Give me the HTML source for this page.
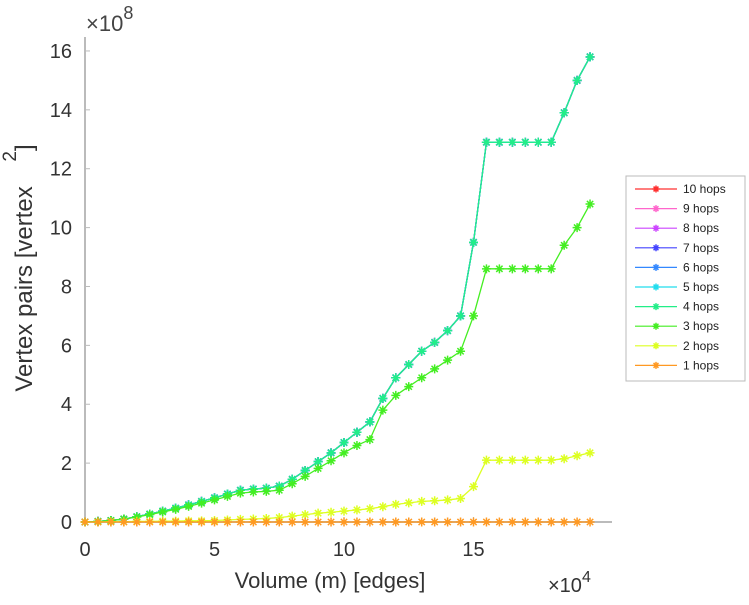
<!DOCTYPE html>
<html><head><meta charset="utf-8"><style>
body{margin:0;background:#fff;width:749px;height:600px;overflow:hidden}
svg{font-family:"Liberation Sans",sans-serif}
</style></head><body>
<svg id="chart" width="749" height="600" viewBox="0 0 749 600" xmlns="http://www.w3.org/2000/svg">
<g id="axes"></g>
<g id="series"></g>
<g id="legend"></g>
</svg>
<script>
const xVals=[0,0.5,1,1.5,2,2.5,3,3.5,4,4.5,5,5.5,6,6.5,7,7.5,8,8.5,9,9.5,10,10.5,11,11.5,12,12.5,13,13.5,14,14.5,15,15.5,16,16.5,17,17.5,18,18.5,19,19.5];
const topVals=[0,0.02,0.05,0.1,0.18,0.27,0.37,0.47,0.58,0.7,0.82,0.95,1.08,1.12,1.15,1.22,1.45,1.75,2.05,2.35,2.7,3.05,3.4,4.2,4.9,5.35,5.8,6.1,6.5,7.0,9.5,12.9,12.9,12.9,12.9,12.9,12.9,13.9,15.0,15.8];
const hop3Vals=[0,0.02,0.05,0.1,0.17,0.25,0.34,0.43,0.53,0.64,0.75,0.87,0.98,1.02,1.04,1.08,1.3,1.55,1.82,2.08,2.35,2.6,2.8,3.8,4.3,4.6,4.9,5.2,5.5,5.8,7.0,8.6,8.6,8.6,8.6,8.6,8.6,9.4,10.0,10.8];
const hop2Vals=[0,0,0.01,0.01,0.02,0.02,0.03,0.03,0.04,0.04,0.05,0.07,0.09,0.1,0.12,0.15,0.2,0.25,0.3,0.33,0.37,0.41,0.45,0.52,0.6,0.65,0.7,0.72,0.75,0.8,1.2,2.1,2.1,2.1,2.1,2.1,2.1,2.15,2.25,2.35];
const hop1Vals=xVals.map(()=>0);
const seriesNames=["10 hops","9 hops","8 hops","7 hops","6 hops","5 hops","4 hops","3 hops","2 hops","1 hops"];
const seriesColors=["#ff3030","#ff66cc","#cc44ff","#4444ff","#3388ff","#22ddee","#22ee88","#44ee22","#ddff22","#ff9922"];
const seriesData=[topVals,topVals,topVals,topVals,topVals,topVals,topVals,hop3Vals,hop2Vals,hop1Vals];
const xTicks=[0,5,10,15];
const yTicks=[0,2,4,6,8,10,12,14,16];
const NS="http://www.w3.org/2000/svg";
const X0=85,XS=25.9,Y0=522,YS=29.44;
const sx=v=>X0+v*XS, sy=v=>Y0-v*YS;
function mk(tag,attrs,parent){const e=document.createElementNS(NS,tag);for(const k in attrs)e.setAttribute(k,attrs[k]);parent.appendChild(e);return e;}
const axes=document.getElementById('axes');
let l=mk('line',{x1:X0,y1:522,x2:612,y2:522,stroke:'#bbb','stroke-width':2},axes);


l=mk('line',{x1:X0,y1:37,x2:X0,y2:522,stroke:'#bbb','stroke-width':2},axes);


xTicks.forEach(t=>{
 const tl=mk('line',{x1:sx(t),y1:522,x2:sx(t),y2:517,stroke:'#bbb'},axes);
 
 
 const tx=mk('text',{x:sx(t),y:556,'text-anchor':'middle','font-size':20,fill:'#333'},axes);tx.textContent=t;
 
 
});
yTicks.forEach(t=>{
 const tl=mk('line',{x1:X0,y1:sy(t),x2:X0+5,y2:sy(t),stroke:'#bbb'},axes);
 
 
 const tx=mk('text',{x:72,y:sy(t)+7,'text-anchor':'end','font-size':20,fill:'#333'},axes);tx.textContent=t;
 
 
});
let t=mk('text',{x:86,y:31,'font-size':22,fill:'#444'},axes);t.innerHTML='×10<tspan dy="-12" font-size="18">8</tspan>';


t=mk('text',{x:548,y:592,'font-size':20,fill:'#333'},axes);t.innerHTML='×10<tspan dy="-10" font-size="16">4</tspan>';


t=mk('text',{x:330,y:588,'text-anchor':'middle','font-size':22,fill:'#333'},axes);t.textContent='Volume (m) [edges]';


t=mk('text',{x:0,y:0,'text-anchor':'middle','font-size':24,fill:'#333',transform:'translate(32,268) rotate(-90)'},axes);t.innerHTML='Vertex pairs [vertex <tspan dy="-16" dx="18" font-size="19">2</tspan><tspan dy="16">]</tspan>';


function star(g,x,y,c,r){
 mk('path',{d:`M${x-r},${y}H${x+r}M${x},${y-r}V${y+r}M${x-r*.7},${y-r*.7}L${x+r*.7},${y+r*.7}M${x-r*.7},${y+r*.7}L${x+r*.7},${y-r*.7}`,stroke:c,'stroke-width':1.5,fill:'none'},g);
}
const sg=document.getElementById('series');
seriesData.forEach((vals,i)=>{
 const g=mk('g',{},sg);
 
 
 mk('polyline',{points:xVals.map((x,j)=>sx(x)+','+sy(vals[j])).join(' '),fill:'none',stroke:seriesColors[i],'stroke-width':1.3},g);
 xVals.forEach((x,j)=>star(g,sx(x),sy(vals[j]),seriesColors[i],4.5));
});
const lg=document.getElementById('legend');
const box=mk('rect',{x:626,y:176,width:119,height:205,fill:'#fff',stroke:'#bbb'},lg);


seriesNames.forEach((n,i)=>{
 const y=189+i*19.6;
 const g=mk('g',{},lg);
 
 
 mk('line',{x1:635,y1:y,x2:677,y2:y,stroke:seriesColors[i],'stroke-width':1.2},g);
 star(g,656,y,seriesColors[i],3.5);
 const tx=mk('text',{x:683,y:y+4,'font-size':12,fill:'#222'},g);tx.textContent=n;
});
</script>
</body></html>
